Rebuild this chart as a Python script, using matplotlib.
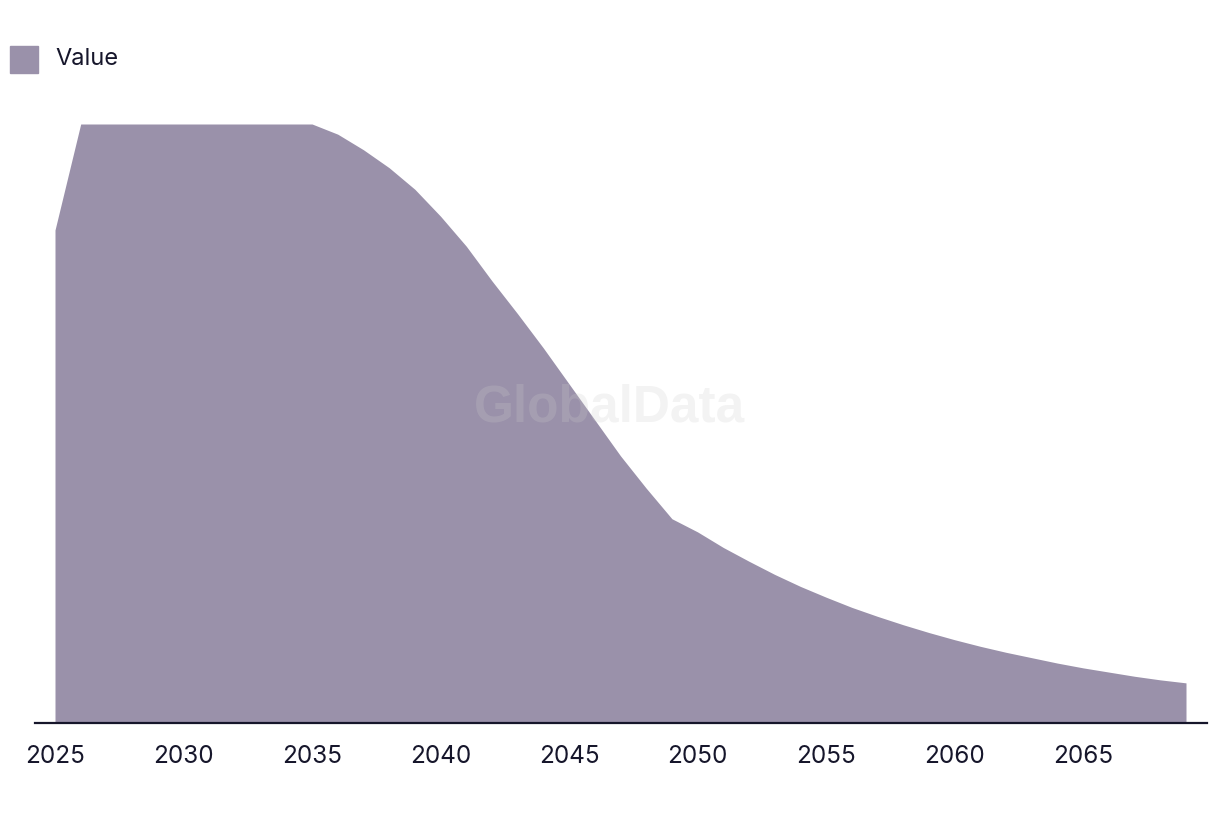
import matplotlib
matplotlib.use("Agg")
import matplotlib.pyplot as plt
from matplotlib.patches import Rectangle

years = list(range(2025, 2070))
values = [82.3, 100, 100, 100, 100, 100, 100, 100, 100, 100, 100,
          98.3, 95.7, 92.7, 89.1, 84.6, 79.6, 73.8, 68.3, 62.6, 56.6,
          50.6, 44.6, 39.2, 34.1, 31.9, 29.3, 27.0, 24.8, 22.8, 21.0,
          19.3, 17.8, 16.4, 15.1, 13.9, 12.8, 11.8, 10.9, 10.0, 9.2,
          8.5, 7.8, 7.2, 6.7]
tick_years = [2025, 2030, 2035, 2040, 2045, 2050, 2055, 2060, 2065]
series_name = "Value"

FILL = "#9a91aa"
DARK = "#16162b"

fig = plt.figure(figsize=(12.2, 8.14), dpi=100)
W, H = 1220, 814
ax = fig.add_axes([35 / W, 1 - 723 / H, 1172 / W, 599 / H])

ax.fill_between(years, 0, values, color=FILL, linewidth=0, zorder=2)

pxyr = (1186 - 55) / 44
ax.set_xlim(2025 - 20 / pxyr, 2069 + 21 / pxyr)
ax.set_ylim(0, 100)

for s in ["top", "right", "left"]:
    ax.spines[s].set_visible(False)
ax.spines["bottom"].set_color(DARK)
ax.spines["bottom"].set_linewidth(1.6)
ax.spines["bottom"].set_zorder(3)
ax.set_yticks([])
ax.set_xticks(tick_years)
ax.set_xticklabels([str(y) for y in tick_years], fontfamily="Inter",
                   fontsize=17.5, color=DARK)
ax.tick_params(axis="x", length=0, pad=16)

# watermark
fig.text(610 / W, 1 - 408 / H, "GlobalData", fontfamily="Liberation Sans",
         fontweight="bold", fontsize=37, color="#cccccc", alpha=0.235,
         ha="center", va="center", zorder=10)

# legend
fig.patches.append(Rectangle((10 / W, 1 - 73 / H), 28 / W, 27 / H,
                             transform=fig.transFigure, color=FILL))
fig.text(55 / W, 1 - 59 / H, series_name, fontfamily="Inter", fontsize=17,
         color=DARK, ha="left", va="center")

fig.savefig("out.png", dpi=100)
